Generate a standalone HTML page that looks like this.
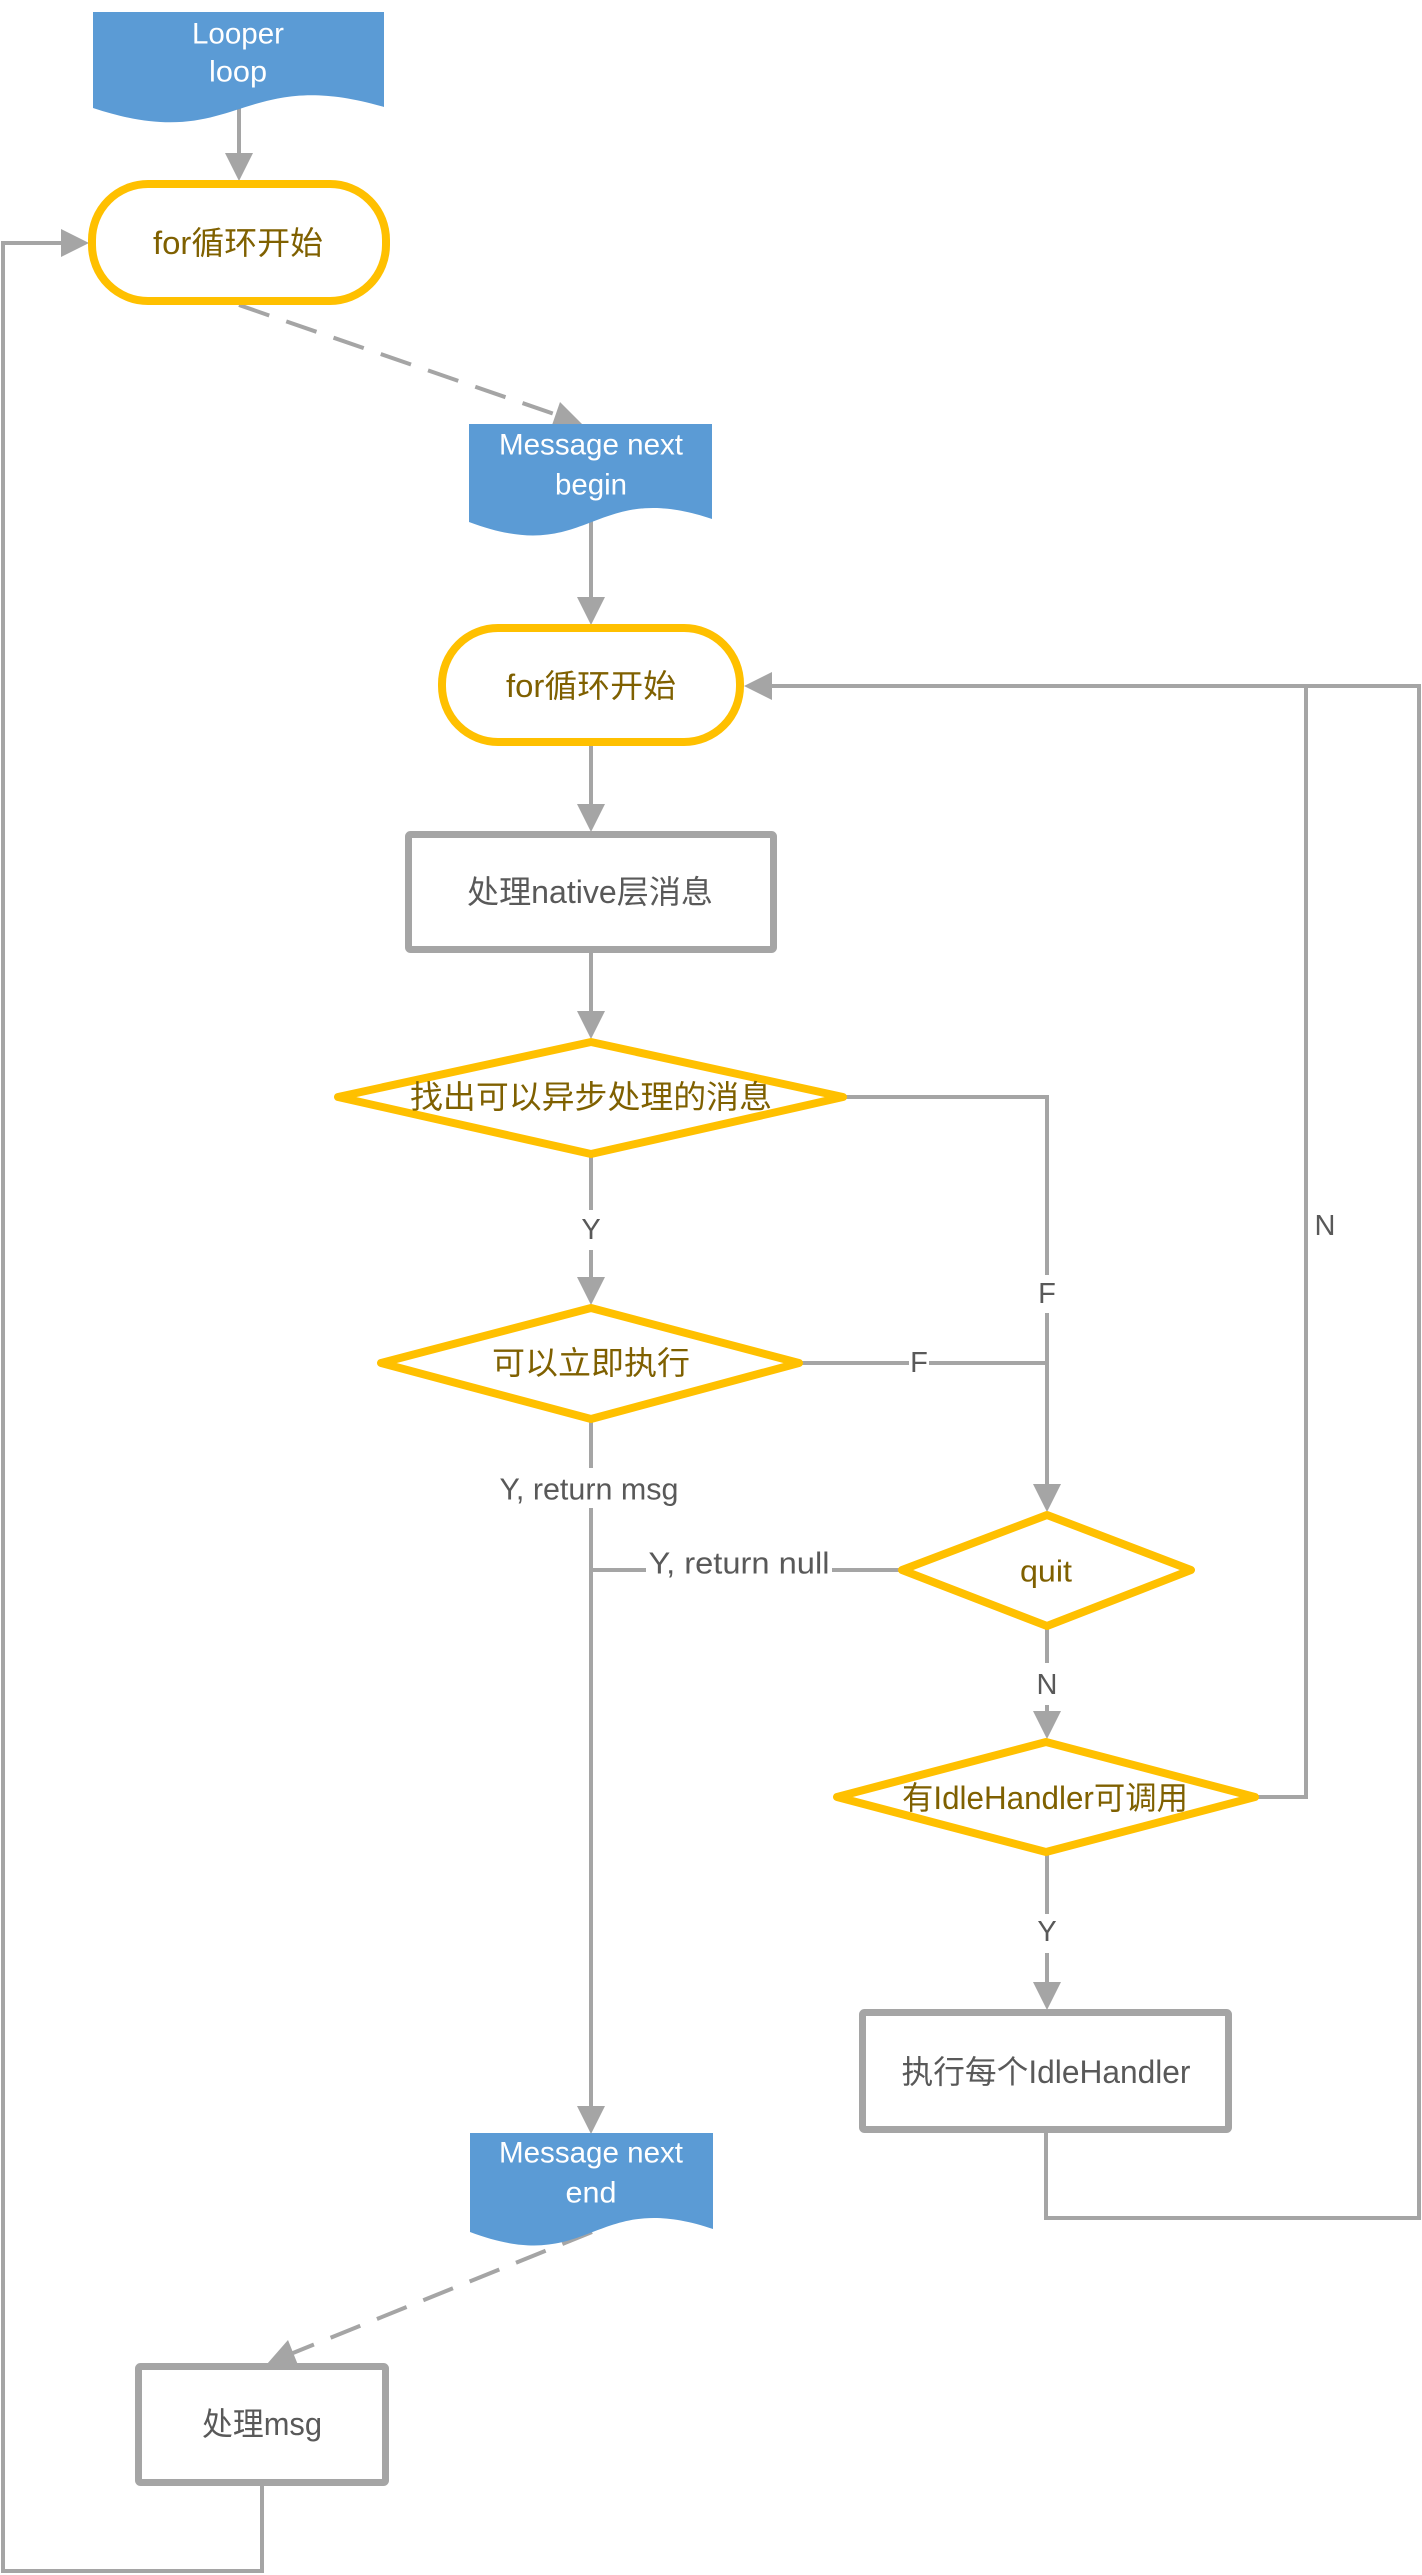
<!DOCTYPE html>
<html>
<head>
<meta charset="utf-8">
<style>
  html, body { margin: 0; padding: 0; background: #ffffff; }
  body { width: 1422px; height: 2575px; overflow: hidden; }
  svg { display: block; }
  text { font-family: "Liberation Sans", "Noto Sans CJK SC", sans-serif; }
</style>
</head>
<body>
<svg width="1422" height="2575" viewBox="0 0 1422 2575" xmlns="http://www.w3.org/2000/svg">
  <rect x="0" y="0" width="1422" height="2575" fill="#ffffff"/>

  <!-- ============ CONNECTORS ============ -->
  <g stroke="#a5a5a5" stroke-width="4" fill="none">
    <line x1="239" y1="106" x2="239" y2="156"/>
    <line x1="239" y1="305" x2="557" y2="415" stroke-dasharray="32 18"/>
    <line x1="591" y1="520" x2="591" y2="600"/>
    <line x1="591" y1="746" x2="591" y2="807"/>
    <line x1="591" y1="953" x2="591" y2="1014"/>
    <line x1="591" y1="1156" x2="591" y2="1280"/>
    <polyline points="845,1097 1047,1097 1047,1487"/>
    <line x1="801" y1="1363" x2="1047" y2="1363"/>
    <line x1="591" y1="1421" x2="591" y2="2109"/>
    <line x1="900" y1="1570" x2="591" y2="1570"/>
    <line x1="1047" y1="1628" x2="1047" y2="1714"/>
    <polyline points="1257,1797 1306,1797 1306,686 768,686"/>
    <line x1="1047" y1="1854" x2="1047" y2="1985"/>
    <polyline points="1046,2133 1046,2218 1419,2218 1419,686 1306,686"/>
    <line x1="592" y1="2232" x2="293" y2="2353" stroke-dasharray="32 18"/>
    <polyline points="262,2486 262,2571 3,2571 3,243 64,243"/>
  </g>

  <!-- ============ ARROWHEADS ============ -->
  <g fill="#a5a5a5">
    <polygon points="239,181 225,153 253,153"/>
    <polygon points="582,424 551,428 560,402"/>
    <polygon points="591,625 577,597 605,597"/>
    <polygon points="591,832 577,804 605,804"/>
    <polygon points="591,1039 577,1011 605,1011"/>
    <polygon points="591,1305 577,1277 605,1277"/>
    <polygon points="1047,1512 1033,1484 1061,1484"/>
    <polygon points="1047,1739 1033,1711 1061,1711"/>
    <polygon points="1047,2010 1033,1982 1061,1982"/>
    <polygon points="591,2134 577,2106 605,2106"/>
    <polygon points="744,686 772,672 772,700"/>
    <polygon points="89,243 61,229 61,257"/>
    <polygon points="267,2364 288,2340 298,2365"/>
  </g>

  <!-- ============ SHAPES ============ -->
  <path d="M93,12 L384,12 L384,107 C238,64 238,156 93,108 Z" fill="#5b9bd5"/>
  <path d="M469,424 L712,424 L712,519 C591,478 591,568 469,522 Z" fill="#5b9bd5"/>
  <path d="M470,2133 L713,2133 L713,2229 C592,2188 592,2278 470,2232 Z" fill="#5b9bd5"/>

  <rect x="92" y="184" width="294" height="117" rx="56" ry="56" fill="#ffffff" stroke="#ffc000" stroke-width="8"/>
  <rect x="442" y="628" width="298" height="114" rx="56" ry="56" fill="#ffffff" stroke="#ffc000" stroke-width="8"/>

  <rect x="408.5" y="834.5" width="365" height="115" rx="2" fill="#ffffff" stroke="#a5a5a5" stroke-width="7"/>
  <rect x="862.5" y="2012.5" width="366" height="117" rx="2" fill="#ffffff" stroke="#a5a5a5" stroke-width="7"/>
  <rect x="138.5" y="2366.5" width="247" height="116" rx="2" fill="#ffffff" stroke="#a5a5a5" stroke-width="7"/>

  <g fill="#ffffff" stroke="#ffc000" stroke-width="8" stroke-linejoin="round">
    <polygon points="338,1097 591,1042 843,1097 591,1154"/>
    <polygon points="381,1363 591,1308 799,1363 591,1419"/>
    <polygon points="902,1570 1047,1515 1191,1570 1047,1626"/>
    <polygon points="837,1797 1046,1742 1255,1797 1046,1852"/>
  </g>

  <g fill="#ffffff">
    <rect x="578" y="1210" width="26" height="40"/>
    <rect x="1034" y="1275" width="26" height="38"/>
    <rect x="909" y="1350" width="20" height="26"/>
    <rect x="497" y="1468" width="184" height="40"/>
    <rect x="646" y="1548" width="186" height="40"/>
    <rect x="1034" y="1663" width="26" height="42"/>
    <rect x="1034" y="1914" width="26" height="39"/>
  </g>

  <!-- ============ TEXT ============ -->
  <g text-anchor="middle" dominant-baseline="central">
    <text x="238" y="34" font-size="30" fill="#ffffff" textLength="92" lengthAdjust="spacingAndGlyphs">Looper</text>
    <text x="238" y="72" font-size="30" fill="#ffffff" textLength="58" lengthAdjust="spacingAndGlyphs">loop</text>
    <text x="591" y="445" font-size="30" fill="#ffffff" textLength="184" lengthAdjust="spacingAndGlyphs">Message next</text>
    <text x="591" y="485" font-size="30" fill="#ffffff" textLength="72" lengthAdjust="spacingAndGlyphs">begin</text>
    <text x="591" y="2153" font-size="30" fill="#ffffff" textLength="184" lengthAdjust="spacingAndGlyphs">Message next</text>
    <text x="591" y="2193" font-size="30" fill="#ffffff" textLength="51" lengthAdjust="spacingAndGlyphs">end</text>

    <text x="238" y="243" font-size="32" fill="#7f6000" textLength="170" lengthAdjust="spacingAndGlyphs">for循环开始</text>
    <text x="591" y="686" font-size="32" fill="#7f6000" textLength="170" lengthAdjust="spacingAndGlyphs">for循环开始</text>
    <text x="591" y="1097" font-size="32" fill="#7f6000" textLength="362" lengthAdjust="spacingAndGlyphs">找出可以异步处理的消息</text>
    <text x="591" y="1363" font-size="32" fill="#7f6000" textLength="198" lengthAdjust="spacingAndGlyphs">可以立即执行</text>
    <text x="1046" y="1571" font-size="31" fill="#7f6000" textLength="52" lengthAdjust="spacingAndGlyphs">quit</text>
    <text x="1045" y="1798" font-size="32" fill="#7f6000" textLength="286" lengthAdjust="spacingAndGlyphs">有IdleHandler可调用</text>

    <text x="590" y="892" font-size="32" fill="#595959" textLength="246" lengthAdjust="spacingAndGlyphs">处理native层消息</text>
    <text x="1046" y="2072" font-size="32" fill="#595959" textLength="289" lengthAdjust="spacingAndGlyphs">执行每个IdleHandler</text>
    <text x="262" y="2424" font-size="32" fill="#595959" textLength="120" lengthAdjust="spacingAndGlyphs">处理msg</text>

    <text x="591" y="1230" font-size="29" fill="#595959">Y</text>
    <text x="1047" y="1294" font-size="29" fill="#595959">F</text>
    <text x="919" y="1363" font-size="29" fill="#595959">F</text>
    <text x="1325" y="1226" font-size="29" fill="#595959">N</text>
    <text x="589" y="1489" font-size="31" fill="#595959" textLength="179" lengthAdjust="spacingAndGlyphs">Y, return msg</text>
    <text x="739" y="1563" font-size="31" fill="#595959" textLength="181" lengthAdjust="spacingAndGlyphs">Y,  return null</text>
    <text x="1047" y="1685" font-size="29" fill="#595959">N</text>
    <text x="1047" y="1932" font-size="29" fill="#595959">Y</text>
  </g>
</svg>
</body>
</html>
